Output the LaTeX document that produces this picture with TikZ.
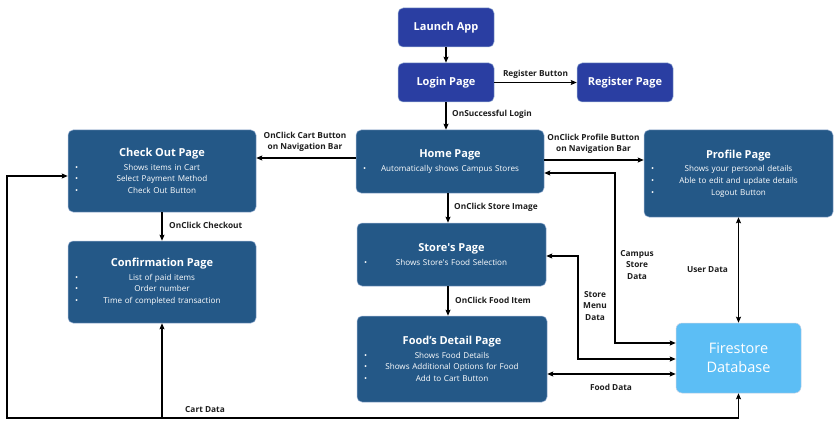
\documentclass[tikz,border=0pt]{standalone}
\usepackage{fontspec}
\setmainfont{Open Sans}
\usetikzlibrary{arrows.meta,calc}
\definecolor{pageblue}{HTML}{245887}
\definecolor{loginblue}{HTML}{2A3EA2}
\definecolor{dbblue}{HTML}{5CBEF5}
\definecolor{edgec}{HTML}{9DB4D6}
\definecolor{labelc}{HTML}{1E1E1E}
\newcommand\titf{\fontsize{11}{13}\selectfont\bfseries}
\newcommand\bulf{\fontsize{8.1}{11.7}\selectfont}
\newcommand\bl[1]{\leavevmode\hbox to\linewidth{\rlap{\hspace*{7pt}\textbullet}\hfil#1\hfil}}
\tikzset{
  page/.style={rounded corners=5pt, fill=pageblue, draw=edgec, line width=0.5pt, text=white, inner sep=0pt, align=center, font=\bulf},
  entry/.style={rounded corners=5pt, fill=loginblue, draw=edgec, line width=0.5pt, text=white, inner sep=0pt, align=center, font=\titf, minimum width=96pt, minimum height=39pt},
  db/.style={rounded corners=6pt, fill=dbblue, draw=edgec!60, line width=0.5pt, text=white, inner sep=0pt, align=center, font=\fontsize{14.5}{19}\selectfont, minimum width=125pt, minimum height=70pt},
  arr/.style={-{Stealth[length=6pt,width=5pt,inset=1pt]}, line width=1.2pt, draw=black},
  arrb/.style={{Stealth[length=6pt,width=5pt,inset=1pt]}-{Stealth[length=6pt,width=5pt,inset=1pt]}, line width=1.2pt, draw=black},
  lab/.style={font=\fontsize{8.3}{11.5}\selectfont\bfseries, text=labelc, inner sep=0pt, align=center}
}
\begin{document}
\begin{tikzpicture}[x=1pt,y=-1pt]
\useasboundingbox (0,0) rectangle (840,425);
\fill[white] (0,0) rectangle (840,425);
% entry nodes
\node[entry] (launch) at (446,27.5) {Launch App};
\node[entry] (login) at (446,82.5) {Login Page};
\node[entry] (register) at (625,82.5) {Register Page};
% pages
\node[page, text width=188pt, minimum height=63pt] (home) at (450,161.5)
  {{\titf Home Page}\\[1.5pt]\bl{Automatically shows Campus Stores}};
\node[page, text width=188pt, minimum height=82pt] (checkout) at (162,171)
  {{\titf Check Out Page}\\[1.5pt]\bl{Shows items in Cart}\\\bl{Select Payment Method}\\\bl{Check Out Button}};
\node[page, text width=189pt, minimum height=87pt] (profile) at (738.5,173.5)
  {{\titf Profile Page}\\[1.5pt]\bl{Shows your personal details}\\\bl{Able to edit and update details}\\\bl{Logout Button}};
\node[page, text width=189pt, minimum height=63pt] (store) at (451.5,254.5)
  {{\titf Store\textquotesingle s Page}\\[1.5pt]\bl{Shows Store\textquotesingle s Food Selection}};
\node[page, text width=190pt, minimum height=86pt] (food) at (452,359)
  {{\titf Food’s Detail Page}\\[1.5pt]\bl{Shows Food Details}\\\bl{Shows Additional Options for Food}\\\bl{Add to Cart Button}};
\node[page, text width=188pt, minimum height=82pt] (confirm) at (162,282)
  {{\titf Confirmation Page}\\[1.5pt]\bl{List of paid items}\\\bl{Order number}\\\bl{Time of completed transaction}};
\node[db] (fs) at (738.5,358) {Firestore\\Database};
% routing coordinates
\coordinate (cs) at (615,343);
\coordinate (sm) at (578,359);
\coordinate (bl) at (7,418);
% flow connectors
\draw[arr] (launch) -- (login);
\draw[arr] (login.east) -- (register.west);
\draw[arr] (login.south) -- (login.south |- home.north);
\draw[arr] ([yshift=3.5pt]home.west) -- ([yshift=3.5pt]home.west -| checkout.east);
\draw[arr] ([yshift=1.5pt]home.east) -- ([yshift=1.5pt]home.east -| profile.west);
\draw[arr] (checkout.south) -- (checkout.south |- confirm.north);
\draw[arr] ([xshift=-2pt]home.south) -- ([xshift=-2pt]home.south |- store.north);
\draw[arr] ([xshift=-3.5pt]store.south) -- ([xshift=-3.5pt]store.south |- food.north);
% data connectors
\draw[arrb] ([yshift=-11.5pt]home.east) -| (cs) -- (cs -| fs.west);
\draw[arrb] ([yshift=-1.5pt]store.east) -| (sm) -- (sm -| fs.west);
\draw[arrb] ([yshift=-15pt]food.east) -- ([yshift=-15pt]food.east -| fs.west);
\draw[arrb] (profile.south) -- (fs.north);
\draw[arrb] ([yshift=-5pt]checkout.west) -| (bl) -| (fs.south);
\draw[arr] (confirm.south |- bl) -- (confirm.south);
% labels
\node[lab] (l1) at (535.5,74) {Register Button};
\node[lab, anchor=west] (l2) at (452,114) {OnSuccessful Login};
\node[lab] (l3) at (305,142) {OnClick Cart Button\\on Navigation Bar};
\node[lab] (l4) at (593.5,144) {OnClick Profile Button\\on Navigation Bar};
\node[lab, anchor=west] (l5) at (169,225) {OnClick Checkout};
\node[lab, anchor=west] (l6) at (454,207) {OnClick Store Image};
\node[lab, anchor=west] (l7) at (455,300) {OnClick Food Item};
\node[lab] (l8) at (637,265) {Campus\\Store\\Data};
\node[lab] (l9) at (595,306) {Store\\Menu\\Data};
\node[lab] (l10) at (707.5,270) {User Data};
\node[lab] (l11) at (611,387) {Food Data};
\node[lab] (l12) at (205,410) {Cart Data};
\end{tikzpicture}
\end{document}
